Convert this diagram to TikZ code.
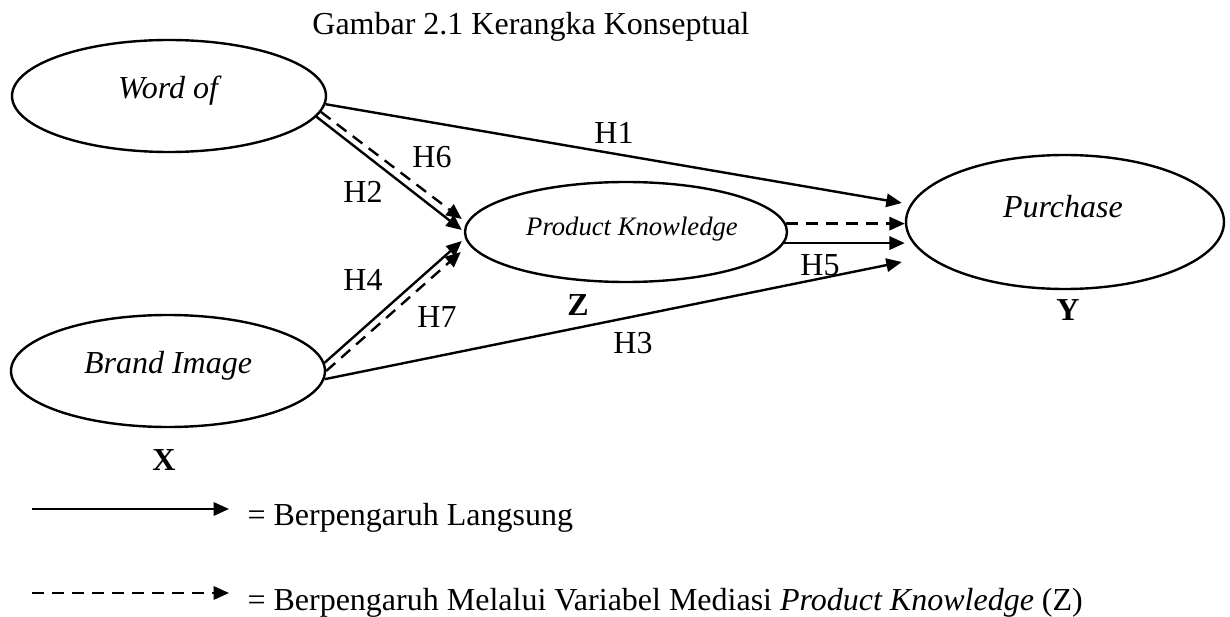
\documentclass[tikz,border=0pt]{standalone}
\usepackage{fontspec}
\setmainfont{Liberation Serif}
\usetikzlibrary{shapes.geometric,arrows.meta}

\begin{document}
\begin{tikzpicture}[x=0.375pt, y=-0.375pt,
    var/.style={draw, ellipse, line width=0.9pt, inner sep=0pt},
    lbl/.style={inner sep=0pt, text height=7.9pt, text depth=0pt, font=\fontsize{12}{14}\selectfont},
    direct/.style={line width=0.9pt, -{Triangle[length=5.8pt,width=5pt]}},
    mediated/.style={direct, dash pattern=on 4.5pt off 3pt}]
    \useasboundingbox (0,0) rectangle (1230,617);

    \node[lbl] (title) at (531,24) {Gambar 2.1 Kerangka Konseptual};

    % Draw the four variables
    \node[var, minimum width=117.75pt, minimum height=42pt] (wom) at (169,96) {};
    \node[var, minimum width=117.75pt, minimum height=42pt] (bi) at (168,371) {};
    \node[var, minimum width=120.75pt, minimum height=37.5pt] (pk) at (626,232) {};
    \node[var, minimum width=119.25pt, minimum height=50.25pt] (pur) at (1065,222) {};

    \node[lbl] (womtext) at (170,88) {\textit{Word of}};
    \node[lbl] (bitext) at (168,363) {\textit{Brand Image}};
    \node[lbl, font=\fontsize{10}{12}\selectfont, text height=6.6pt] (pktext) at (632,227) {\textit{Product Knowledge}};
    \node[lbl] (purtext) at (1063,207) {\textit{Purchase}};

    \node[lbl] (x) at (164,460) {\textbf{X}};
    \node[lbl] (z) at (578,305) {\textbf{Z}};
    \node[lbl] (y) at (1068,310) {\textbf{Y}};

    % Hypotheses
    \draw[direct] (wom.-3) -- ([shift={(-3,-19)}]pur.west);
    \draw[mediated] (wom.-6) -- ([shift={(-2,-13)}]pk.west);
    \draw[direct] (wom.-8) -- ([shift={(-2,-2)}]pk.west);
    \draw[direct] (bi.3) -- ([shift={(-2,9)}]pk.west);
    \draw[mediated] (bi.0) -- ([shift={(-3,20)}]pk.west);
    \draw[direct] (bi.-3) -- ([shift={(-3,40)}]pur.west);
    \draw[mediated] (pk.3) -- (pk.3 -| pur.west);
    \draw[direct] (pk.-4) -- (pk.-4 -| pur.west);

    \node[lbl] (h1) at (614,133) {H1};
    \node[lbl] (h2) at (363,192) {H2};
    \node[lbl] (h3) at (633,343) {H3};
    \node[lbl] (h4) at (363,280) {H4};
    \node[lbl] (h5) at (820,265) {H5};
    \node[lbl] (h6) at (432,157) {H6};
    \node[lbl] (h7) at (437,317) {H7};

    % Legend
    \coordinate (l1a) at (32,509);
    \coordinate (l1b) at (229,509);
    \coordinate (l2a) at (32,593);
    \coordinate (l2b) at (229,593);
    \draw[direct] (l1a) -- (l1b);
    \draw[mediated] (l2a) -- (l2b);
    \node[lbl, anchor=west] (leg1) at (247,515) {= Berpengaruh Langsung};
    \node[lbl, anchor=west] (leg2) at (247,600) {= Berpengaruh Melalui Variabel Mediasi \textit{Product Knowledge} (Z)};
\end{tikzpicture}
\end{document}
